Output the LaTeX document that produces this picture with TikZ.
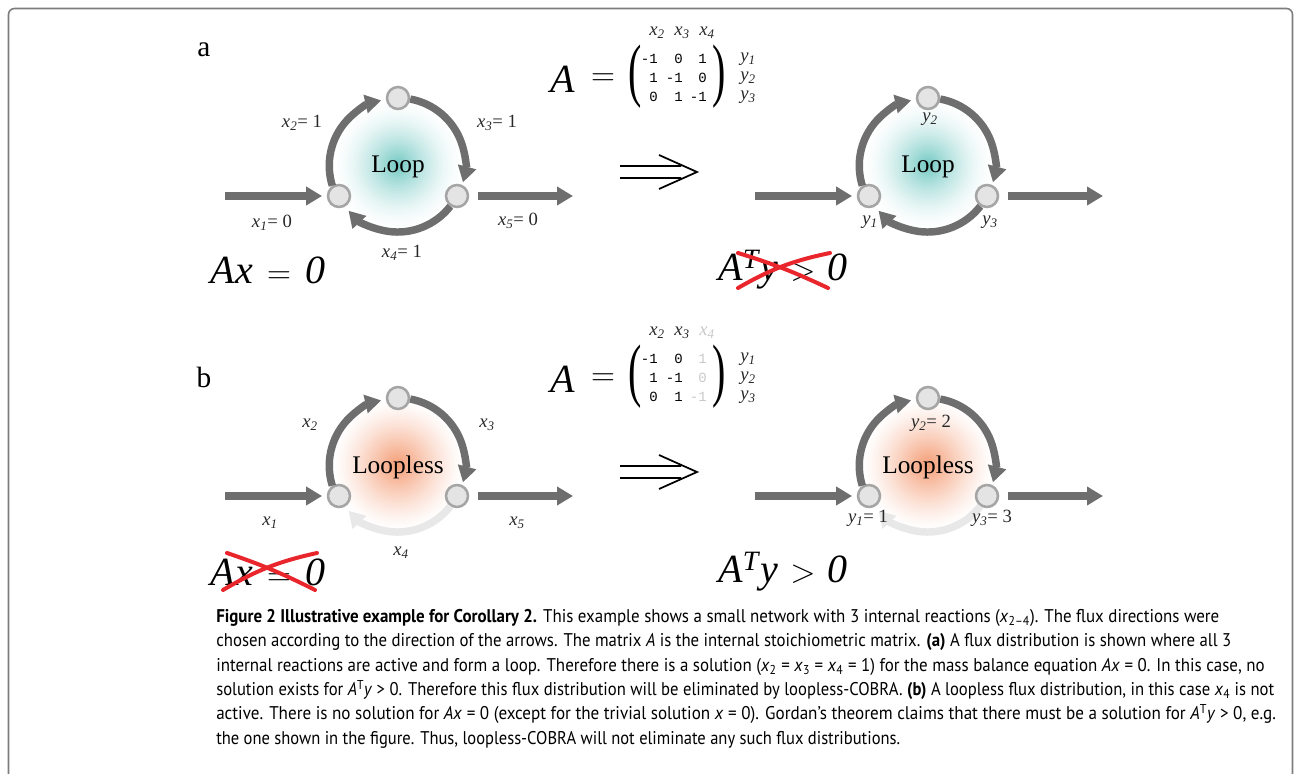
\documentclass[tikz,border=0pt]{standalone}
\usepackage{fontspec}
\usepackage{graphicx}
\setmainfont{Liberation Serif}
\newfontfamily\capfont[FakeStretch=0.92]{PT Sans}
\newfontfamily\matfont{Liberation Mono}
\usetikzlibrary{arrows.meta}
\definecolor{arrowgray}{RGB}{110,110,110}
\definecolor{nodefill}{RGB}{228,228,228}
\definecolor{nodeline}{RGB}{165,165,165}
\definecolor{fadegray}{RGB}{232,232,232}
\definecolor{crossred}{RGB}{232,38,44}
\definecolor{framegray}{RGB}{125,125,125}
\definecolor{labelcol}{RGB}{40,40,40}
\definecolor{dimtext}{RGB}{200,200,200}
\definecolor{tealc}{RGB}{112,200,194}
\definecolor{peachc}{RGB}{244,156,116}
\newcommand{\vx}[2]{\textit{#1}\textsubscript{\textit{#2}}}
% loop network: #1 prefix, #2 cx, #3 cy, #4 glow colour, #5 exponent, #6 centre text, #7 style of bottom arc
\newcommand{\loopnet}[7]{%
  \coordinate (#1c) at (#2,#3);
  \foreach \r in {65,63.5,...,0.5}{%
    \pgfmathsetmacro\gp{100*(1-\r/66)^#5}%
    \fill[#4!\gp!white] (#1c) circle[radius=\r];}
  \node[met] (#1L) at (#2-59,#3-31) {};
  \node[met] (#1T) at (#2,#3+67) {};
  \node[met] (#1R) at (#2+59,#3-31) {};
  \coordinate (#1in) at (#2-173,#3-31);
  \coordinate (#1out) at (#2+175,#3-31);
  \draw[#7] (#1R.-123) arc[start angle=-38,end angle=-137,radius=67];
  \draw[flux] (#1L.123) arc[start angle=197.4,end angle=103,radius=67];
  \draw[flux] (#1T.-5) arc[start angle=79.7,end angle=-15,radius=67];
  \draw[flux,shorten >=3.5pt] (#1in) -- (#1L);
  \draw[flux,shorten <=6.5pt] (#1R) -- (#1out);
  \node[ctr] (#1txt) at (#2,#3-2) {#6};
}
\newcommand{\bigimpl}[3]{%
  \coordinate (#1) at (#2,#3);
  \draw[implstyle] ([shift={(-37,6)}]#1) -- ([shift={(24,6)}]#1)
                   ([shift={(-37,-6)}]#1) -- ([shift={(24,-6)}]#1)
                   ([shift={(2,17)}]#1) -- ([shift={(40,0)}]#1) -- ([shift={(2,-17)}]#1);
}
\begin{document}
\begin{tikzpicture}[x=0.75pt,y=0.75pt,
  met/.style={circle,fill=nodefill,draw=nodeline,line width=1.9pt,minimum size=16.5pt,inner sep=0pt},
  flux/.style={draw=arrowgray,line width=5.6pt,-{Triangle[length=12pt,width=13.5pt]}},
  fluxoff/.style={flux,draw=fadegray},
  lbl/.style={font=\fontsize{14}{14}\selectfont,text=labelcol,inner sep=0pt},
  big/.style={font=\fontsize{30}{30}\selectfont,inner sep=0pt},
  ctr/.style={font=\fontsize{19}{19}\selectfont,inner sep=0pt},
  panel/.style={font=\fontsize{22}{22}\selectfont,inner sep=0pt},
  cross/.style={draw=crossred,line width=3pt,line cap=round},
  implstyle/.style={draw=black,line width=1.3pt},
  capline/.style={anchor=base west,inner sep=0pt,font=\capfont\fontsize{13.8}{16}\selectfont},
  ent/.style={anchor=east,inner sep=0pt,font=\matfont\fontsize{10.5}{10.5}\selectfont},
  rowl/.style={anchor=west,inner sep=0pt,font=\fontsize{14}{14}\selectfont,text=labelcol},
  coll/.style={inner sep=0pt,font=\fontsize{14}{14}\selectfont,text=labelcol},
  paren/.style={inner sep=0pt,font=\fontsize{30}{30}\selectfont},
]
\useasboundingbox (0,0) rectangle (1295,774);
\clip (0,0) rectangle (1295,774);
\draw[framegray,line width=1.2pt,rounded corners=4.5pt] (8.5,-30) -- (8.5,765.5) -- (1292.5,765.5) -- (1292.5,-30);

% ---------------- panel a ----------------
\node[panel] (pa) at (204,724) {a};
\loopnet{a}{398}{609}{tealc}{1.6}{Loop}{flux}
\node[lbl] (ax2) at (302,651) {\vx{x}{2}= 1};
\node[lbl] (ax3) at (497,651) {\vx{x}{3}= 1};
\node[lbl] (ax1) at (272,551) {\vx{x}{1}= 0};
\node[lbl] (ax5) at (518,553) {\vx{x}{5}= 0};
\node[lbl] (ax4) at (402,521) {\vx{x}{4}= 1};
\node[big] (aeq) at (268,504) {\textit{Ax}\hspace{0.35em}$=$\hspace{0.35em}\textit{0}};

% matrix a
\node[big] (amA) at (563,695) {\textit{A}};
\node[big] (amEq) at (603,694) {$=$};
\node[paren] (amL) at (635,697) {\scalebox{1}[1.75]{(}};
\node[paren] (amR) at (719,697) {\scalebox{1}[1.75]{)}};
\node[coll] (amc2) at (657,741) {\vx{x}{2}};
\node[coll] (amc3) at (682,741) {\vx{x}{3}};
\node[coll] (amc4) at (707,741) {\vx{x}{4}};
\node[ent] (am11) at (658,715) {-1}; \node[ent] (am12) at (683,715) {0}; \node[ent] (am13) at (707,715) {1};
\node[ent] (am21) at (658,696) {1};  \node[ent] (am22) at (683,696) {-1}; \node[ent] (am23) at (707,696) {0};
\node[ent] (am31) at (658,677) {0};  \node[ent] (am32) at (683,677) {1};  \node[ent] (am33) at (707,677) {-1};
\node[rowl] (amr1) at (740,715) {\vx{y}{1}};
\node[rowl] (amr2) at (740,696) {\vx{y}{2}};
\node[rowl] (amr3) at (740,677) {\vx{y}{3}};

\bigimpl{aimpl}{657}{602}

\loopnet{ar}{928}{609}{tealc}{1.6}{Loop}{flux}
\node[lbl] (ay2) at (930,655) {\vx{y}{2}};
\node[lbl] (ay1) at (870,552) {\vx{y}{1}};
\node[lbl] (ay3) at (990,552) {\vx{y}{3}};
\node[big] (aty) at (783,504) {\textit{A}\textsuperscript{\textit{T}}\textit{y}\hspace{0.3em}$>$\hspace{0.3em}\textit{0}};
\draw[cross] (738,521) to[bend left=4] (828,486);
\draw[cross] (738,486) to[bend left=9] (830,521);

% ---------------- panel b ----------------
\node[panel] (pb) at (204,397) {b};
\loopnet{b}{398}{309}{peachc}{1.3}{Loopless}{fluxoff}
\node[lbl] (bx2) at (310,349) {\vx{x}{2}};
\node[lbl] (bx3) at (487,349) {\vx{x}{3}};
\node[lbl] (bx1) at (270,251) {\vx{x}{1}};
\node[lbl] (bx5) at (517,251) {\vx{x}{5}};
\node[lbl] (bx4) at (401,221) {\vx{x}{4}};
\node[big] (beq) at (268,202) {\textit{Ax}\hspace{0.35em}$=$\hspace{0.35em}\textit{0}};
\draw[cross] (227,221) to[bend left=4] (315,184);
\draw[cross] (223,184) to[bend left=9] (317,221);

% matrix b
\node[big] (bmA) at (563,395) {\textit{A}};
\node[big] (bmEq) at (603,394) {$=$};
\node[paren] (bmL) at (635,397) {\scalebox{1}[1.75]{(}};
\node[paren] (bmR) at (719,397) {\scalebox{1}[1.75]{)}};
\node[coll] (bmc2) at (657,441) {\vx{x}{2}};
\node[coll] (bmc3) at (682,441) {\vx{x}{3}};
\node[coll,text=dimtext] (bmc4) at (707,441) {\vx{x}{4}};
\node[ent] (bm11) at (658,415) {-1}; \node[ent] (bm12) at (683,415) {0}; \node[ent,text=dimtext] (bm13) at (707,415) {1};
\node[ent] (bm21) at (658,396) {1};  \node[ent] (bm22) at (683,396) {-1}; \node[ent,text=dimtext] (bm23) at (707,396) {0};
\node[ent] (bm31) at (658,377) {0};  \node[ent] (bm32) at (683,377) {1};  \node[ent,text=dimtext] (bm33) at (707,377) {-1};
\node[rowl] (bmr1) at (740,415) {\vx{y}{1}};
\node[rowl] (bmr2) at (740,396) {\vx{y}{2}};
\node[rowl] (bmr3) at (740,377) {\vx{y}{3}};

\bigimpl{bimpl}{657}{302}

\loopnet{br}{928}{309}{peachc}{1.3}{Loopless}{fluxoff}
\node[lbl] (by2) at (931,351) {\vx{y}{2}= 2};
\node[lbl] (by1) at (868,256) {\vx{y}{1}= 1};
\node[lbl] (by3) at (992,256) {\vx{y}{3}= 3};
\node[big] (bty) at (783,202) {\textit{A}\textsuperscript{\textit{T}}\textit{y}\hspace{0.3em}$>$\hspace{0.3em}\textit{0}};

% ---------------- caption ----------------
\node[capline] (c1) at (216,151) {\textbf{Figure 2 Illustrative example for Corollary 2.} This example shows a small network with 3 internal reactions (\textit{x}\textsubscript{2–4}). The flux directions were};
\node[capline] (c2) at (216,127) {\scalebox{0.991}[1]{chosen according to the direction of the arrows. The matrix \textit{A} is the internal stoichiometric matrix. \textbf{(a)} A flux distribution is shown where all 3}};
\node[capline] (c3) at (216,102) {internal reactions are active and form a loop. Therefore there is a solution (\textit{x}\textsubscript{2} = \textit{x}\textsubscript{3} = \textit{x}\textsubscript{4} = 1) for the mass balance equation \textit{Ax} = 0. In this case, no};
\node[capline] (c4) at (216,78) {\scalebox{0.982}[1]{solution exists for \textit{A}\textsuperscript{T}\textit{y} > 0. Therefore this flux distribution will be eliminated by loopless-COBRA. \textbf{(b)} A loopless flux distribution, in this case \textit{x}\textsubscript{4} is not}};
\node[capline] (c5) at (216,54) {\scalebox{1.009}[1]{active. There is no solution for \textit{Ax} = 0 (except for the trivial solution \textit{x} = 0). Gordan’s theorem claims that there must be a solution for \textit{A}\textsuperscript{T}\textit{y} > 0, e.g.}};
\node[capline] (c6) at (216,29) {\scalebox{0.977}[1]{the one shown in the figure. Thus, loopless-COBRA will not eliminate any such flux distributions.}};
\end{tikzpicture}
\end{document}
